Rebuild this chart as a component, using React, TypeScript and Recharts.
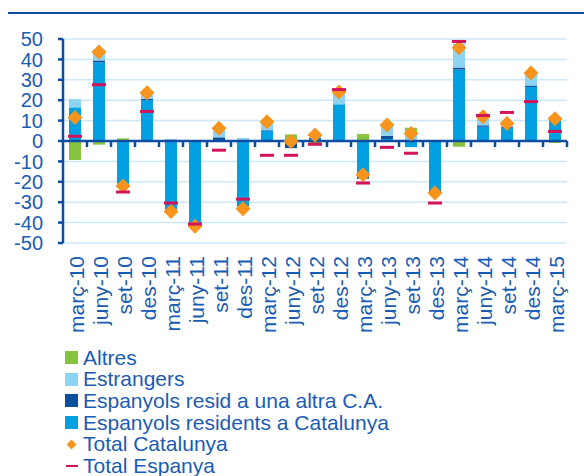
import React from "react";
import {
  ComposedChart,
  Bar,
  Line,
  XAxis,
  YAxis,
  CartesianGrid,
  ReferenceLine,
} from "recharts";

const categories = [
  "març-10", "juny-10", "set-10", "des-10",
  "març-11", "juny-11", "set-11", "des-11",
  "març-12", "juny-12", "set-12", "des-12",
  "març-13", "juny-13", "set-13", "des-13",
  "març-14", "juny-14", "set-14", "des-14",
  "març-15",
];

const residents = [16.5, 38.5, -21.5, 20, -33, -40, 0.3, -31.5, 5, 0, 1, 18, -15.8, 1, -3, -24, 35, 7, 6.5, 26.5, 11];
const altraCA = [0, 1, -0.8, 0.7, -0.5, -1, 1.5, -0.5, 0.3, -3.5, 0.5, 0, -2.7, 1.5, 0, -1.5, 1, 0.7, 0.5, 0.7, 0.5];
const estrangers = [4, 5.5, 0, 1.8, 1, 0, 4.5, 1.5, 4, 0.5, 2.5, 6.5, 0, 6, 4.5, 0, 11.8, 4.5, 1, 6.5, 0.5];
const altres = [-9.3, -1.8, 1.3, -0.3, -1, -0.5, 0, -2, 0, 2.7, -1, -0.5, 3.4, -0.5, 2, 0, -2.8, 0, -0.5, 0, -1];
const totalCatalunya = [11.5, 43.6, -22, 23.6, -34.5, -41.8, 6.2, -33.2, 9.4, -0.3, 2.9, 24, -16.6, 7.8, 3.7, -25.5, 45.7, 11.9, 8.6, 33.3, 10.9];
const totalEspanya = [2.3, 27.6, -25, 14.5, -30.4, -40.7, -4.5, -28.5, -7, -7, -1.6, 25.2, -20.6, -3.1, -6, -30.4, 48.8, 12.5, 14, 19.3, 4.7];

const yTicks = [-50, -40, -30, -20, -10, 0, 10, 20, 30, 40, 50];

const AXIS = "#0c4da2";
const TEXT = "#1a5cb3";
const FONT = "'Liberation Sans', Arial, sans-serif";

const barSeries = [
  { key: "residents", name: "Espanyols residents a Catalunya", color: "#00a0e3" },
  { key: "altraCA", name: "Espanyols resid a una altra C.A.", color: "#0b4f9e" },
  { key: "estrangers", name: "Estrangers", color: "#8dd3f3" },
  { key: "altres", name: "Altres", color: "#86c440" },
];

const data = categories.map((cat, i) => ({
  cat,
  residents: residents[i],
  altraCA: altraCA[i],
  estrangers: estrangers[i],
  altres: altres[i],
  totalCat: totalCatalunya[i],
  totalEsp: totalEspanya[i],
}));

const XTick = (props: any) => {
  const { x, y, payload } = props;
  return (
    <text
      x={x}
      y={y + 13}
      transform={`rotate(-90 ${x} ${y + 13})`}
      textAnchor="end"
      dy={9}
      fill={TEXT}
      fontSize={21}
      fontFamily={FONT}
    >
      {payload.value}
    </text>
  );
};

const ZeroAxis = (props: any) => {
  const { x1, y1, x2 } = props;
  const step = (x2 - x1) / categories.length;
  return (
    <g>
      <line x1={x1} y1={y1} x2={x2} y2={y1} stroke={AXIS} strokeWidth={2.5} />
      {categories.map((_, i) => (
        <line
          key={i}
          x1={x1 + step * (i + 1)}
          x2={x1 + step * (i + 1)}
          y1={y1}
          y2={y1 + 6}
          stroke={AXIS}
          strokeWidth={2.5}
        />
      ))}
    </g>
  );
};

const Diamond = (props: any) => {
  const { cx, cy, index } = props;
  if (cx == null || cy == null) return <g key={index} />;
  const r = 7.5;
  return (
    <polygon
      key={index}
      points={`${cx},${cy - r} ${cx + r},${cy} ${cx},${cy + r} ${cx - r},${cy}`}
      fill="#f7941d"
    />
  );
};

const Dash = (props: any) => {
  const { cx, cy, index } = props;
  if (cx == null || cy == null) return <g key={index} />;
  return <rect key={index} x={cx - 7} y={cy - 1.5} width={14} height={3} fill="#d2145a" />;
};

const legendItems = [
  { name: "Altres", type: "square", color: "#86c440" },
  { name: "Estrangers", type: "square", color: "#8dd3f3" },
  { name: "Espanyols resid a una altra C.A.", type: "square", color: "#0b4f9e" },
  { name: "Espanyols residents a Catalunya", type: "square", color: "#00a0e3" },
  { name: "Total Catalunya", type: "diamond", color: "#f7941d" },
  { name: "Total Espanya", type: "dash", color: "#d2145a" },
];

const LegendMarker = ({ type, color }: { type: string; color: string }) => {
  if (type === "square") {
    return <span style={{ display: "inline-block", width: 13, height: 13, background: color }} />;
  }
  if (type === "diamond") {
    return (
      <span style={{ display: "inline-block", width: 13, height: 13, position: "relative" }}>
        <span
          style={{
            position: "absolute",
            left: 3,
            top: 3,
            width: 7,
            height: 7,
            background: color,
            transform: "rotate(45deg)",
          }}
        />
      </span>
    );
  }
  return (
    <span style={{ display: "inline-block", width: 13, height: 13, position: "relative" }}>
      <span style={{ position: "absolute", left: 1, top: 5.5, width: 12, height: 2.5, background: color }} />
    </span>
  );
};

export default function App() {
  return (
    <div
      style={{
        position: "absolute",
        left: 0,
        top: 0,
        width: 584,
        height: 476,
        overflow: "hidden",
        background: "#fff",
        fontFamily: FONT,
      }}
    >
      <div
        style={{
          position: "absolute",
          right: 186,
          top: -21,
          fontSize: 20,
          fontWeight: "bold",
          color: AXIS,
          whiteSpace: "nowrap",
          lineHeight: "20px",
        }}
      >
        Contribució al creixement per orig. (en p.p.)
      </div>
      <div
        style={{
          position: "absolute",
          left: 8,
          top: 12,
          width: 576,
          height: 2,
          background: AXIS,
        }}
      />
      <div style={{ position: "absolute", left: 0, top: 0 }}>
        <ComposedChart
          width={584}
          height={345}
          data={data}
          stackOffset="sign"
          margin={{ top: 39, right: 17, left: 0, bottom: 0 }}
        >
          <CartesianGrid vertical={false} stroke="#cbe8f6" strokeWidth={1.5} />
          <XAxis
            dataKey="cat"
            interval={0}
            height={102}
            axisLine={false}
            tickLine={false}
            tickSize={0}
            tickMargin={0}
            tick={<XTick />}
          />
          <YAxis
            domain={[-50, 50]}
            ticks={yTicks}
            width={63}
            interval={0}
            axisLine={{ stroke: AXIS, strokeWidth: 2.5 }}
            tickLine={{ stroke: AXIS, strokeWidth: 2.5 }}
            tickSize={5}
            tickMargin={15}
            tick={{ fill: TEXT, fontSize: 20, fontFamily: FONT }}
          />
          {barSeries.map((s) => (
            <Bar
              key={s.key}
              dataKey={s.key}
              name={s.name}
              stackId="a"
              fill={s.color}
              barSize={12}
              isAnimationActive={false}
            />
          ))}
          <ReferenceLine y={0} shape={<ZeroAxis />} />
          <Line
            dataKey="totalCat"
            name="Total Catalunya"
            stroke="none"
            dot={Diamond}
            activeDot={false}
            isAnimationActive={false}
          />
          <Line
            dataKey="totalEsp"
            name="Total Espanya"
            stroke="none"
            dot={Dash}
            activeDot={false}
            isAnimationActive={false}
          />
        </ComposedChart>
      </div>
      <div style={{ position: "absolute", left: 65, top: 347 }}>
        {legendItems.map((item) => (
          <div
            key={item.name}
            style={{
              display: "flex",
              alignItems: "center",
              height: 21.6,
              fontSize: 21,
              color: TEXT,
              whiteSpace: "nowrap",
            }}
          >
            <LegendMarker type={item.type} color={item.color} />
            <span style={{ marginLeft: 5 }}>{item.name}</span>
          </div>
        ))}
      </div>
    </div>
  );
}
